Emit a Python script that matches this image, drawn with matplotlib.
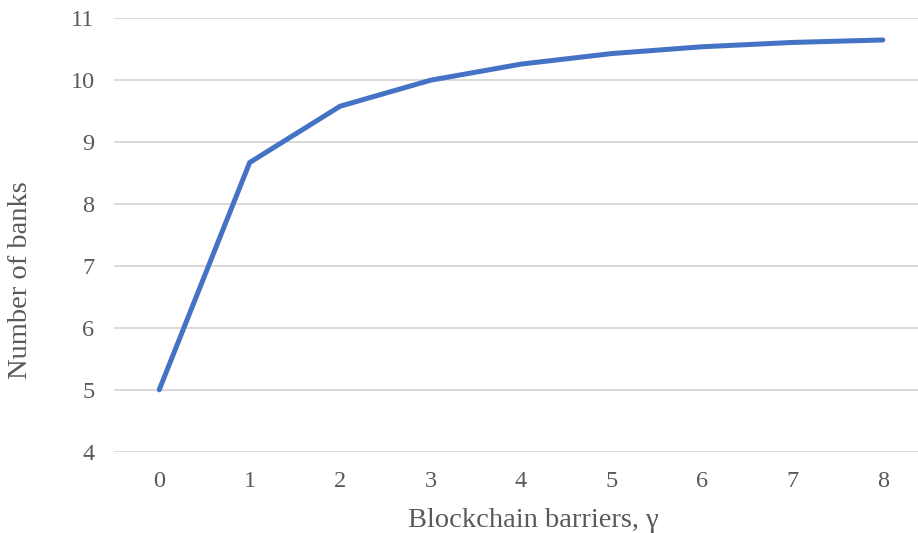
import matplotlib.pyplot as plt

# blockchain barrier level vs. equilibrium number of banks
gamma = [0, 1, 2, 3, 4, 5, 6, 7, 8]
banks = [5.0, 8.67, 9.58, 10.0, 10.26, 10.43, 10.54, 10.61, 10.65]

plt.rcParams['font.family'] = ['Liberation Serif', 'DejaVu Serif']
text_col = '#595959'

fig = plt.figure(figsize=(9.18, 5.33), dpi=100)
ax = fig.add_axes([114 / 918, 1 - 451.7 / 533, 814 / 918, (451.7 - 18.3) / 533])

ax.plot(gamma, banks, color='#4472C4', lw=3.6, solid_capstyle='round', solid_joinstyle='miter', zorder=3)

ax.set_xlim(-0.5, 8.5)
ax.set_ylim(4, 11)
ax.set_xticks(gamma)
ax.set_yticks(range(4, 12))
ax.grid(axis='y', color='#d9d9d9', lw=1.4)
ax.set_axisbelow(True)
for s in ax.spines.values():
    s.set_visible(False)
ax.tick_params(length=0, labelsize=17.5, labelcolor=text_col)
ax.tick_params(axis='y', pad=14)
ax.tick_params(axis='x', pad=14)

fig.text(533 / 918, 1 - 527 / 533, 'Blockchain barriers, γ', fontsize=20.5,
         color=text_col, ha='center', va='baseline')
fig.text(21 / 918, 1 - 280 / 533, 'Number of banks', fontsize=20.5,
         color=text_col, ha='center', va='center', rotation=90)

fig.savefig('out.png', dpi=100)
